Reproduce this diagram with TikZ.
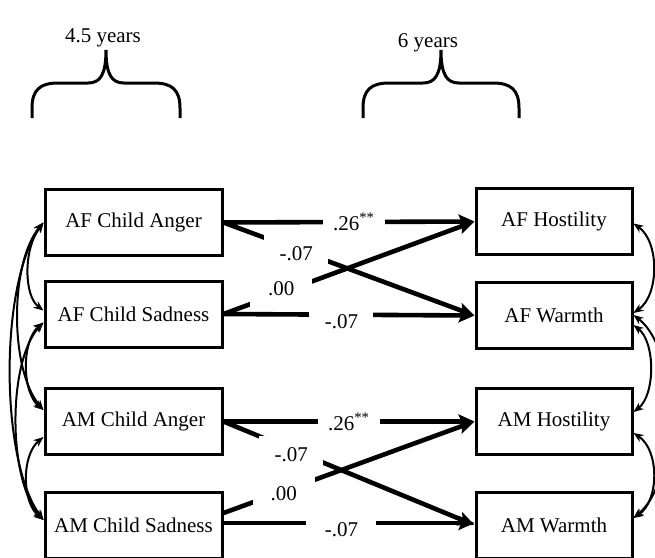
\documentclass[tikz,border=0pt]{standalone}
\usepackage{fontspec}
\setmainfont{Liberation Serif}
\usetikzlibrary{arrows.meta}
\begin{document}
\begin{tikzpicture}[x=0.5pt,y=-0.5pt,
  every node/.style={font=\fontsize{10.5}{12}\selectfont},
  leftbox/.style={draw,line width=1.5pt,minimum width=88.5pt,minimum height=33pt,inner sep=0pt},
  rightbox/.style={draw,line width=1.5pt,minimum width=78pt,minimum height=33pt,inner sep=0pt},
  effarrow/.style={line width=2.3pt,-{Stealth[length=8pt,width=7pt,inset=1.5pt]}},
  coefflabel/.style={fill=white,inner sep=0pt,minimum height=18pt},
  covarrow/.style={line width=1pt,{Stealth[length=5pt,width=4pt]}-{Stealth[length=5pt,width=4pt]}},
  bracepath/.style={line width=1.5pt}
]
\useasboundingbox (0,0) rectangle (655,558);
\clip (0,0) rectangle (655,558);

% time point headings and braces
\node[anchor=base] (t1) at (103,42) {4.5 years};
\node[anchor=base] (t2) at (428,47) {6 years};
\draw[bracepath] (32,118) -- (32,108) .. controls (32,90) and (40,83) .. (58,83) -- (88,83)
  .. controls (100,83) and (106,75) .. (106,50)
  .. controls (106,75) and (112,83) .. (124,83) -- (154,83)
  .. controls (172,83) and (180,90) .. (180,108) -- (180,118);
\draw[bracepath] (363,118) -- (363,108) .. controls (363,90) and (371,83) .. (389,83) -- (423,83)
  .. controls (435,83) and (441,75) .. (441,50)
  .. controls (441,75) and (447,83) .. (459,83) -- (493,83)
  .. controls (511,83) and (519,90) .. (519,108) -- (519,118);

% child emotion at 4.5 years
\node[leftbox] (a1) at (133.5,222.5) {AF Child Anger};
\node[leftbox] (a2) at (133.5,314) {AF Child Sadness};
\node[leftbox] (a3) at (133.5,421.5) {AM Child Anger};
\node[leftbox] (a4) at (133.5,525) {AM Child Sadness};

% parenting at 6 years
\node[rightbox] (b1) at (554,221.5) {AF Hostility};
\node[rightbox] (b2) at (554,315.5) {AF Warmth};
\node[rightbox] (b3) at (554,421.5) {AM Hostility};
\node[rightbox] (b4) at (554,525) {AM Warmth};

% cross-lagged paths
\draw[effarrow] (a1.east) -- node[coefflabel,pos=0.52,minimum width=31pt]{.26\textsuperscript{**}} (b1.west);
\draw[effarrow] (a1.east) -- node[coefflabel,pos=0.29,minimum width=32pt,yshift=-2pt]{-.07} (b2.west);
\draw[effarrow] (a2.east) -- node[coefflabel,pos=0.23,minimum width=31pt,yshift=2pt]{.00} (b1.west);
\draw[effarrow] (a2.east) -- node[coefflabel,pos=0.47,minimum width=32pt,yshift=-3.5pt]{-.07} (b2.west);

\draw[effarrow] (a3.east) -- node[coefflabel,pos=0.5,minimum width=31pt]{.26\textsuperscript{**}} (b3.west);
\draw[effarrow] (a3.east) -- node[coefflabel,pos=0.27,minimum width=32pt,yshift=-2.5pt]{-.07} (b4.west);
\draw[effarrow] ([yshift=6pt]a4.east) -- node[coefflabel,pos=0.24,minimum width=31pt,yshift=-1.5pt]{.00} (b3.west);
\draw[effarrow] ([yshift=1pt]a4.east) -- node[coefflabel,pos=0.47,minimum width=35pt,yshift=-3.5pt]{-.07} ([yshift=1pt]b4.west);

% covariances among the 4.5-year variables
\draw[covarrow] (a1.west) .. controls +(-20,26) and +(-20,-15) .. ([yshift=1.75pt]a2.west);
\draw[covarrow] ([yshift=-4.25pt]a2.west) .. controls +(-22,18) and +(-22,-18) .. ([yshift=5.75pt]a3.west);
\draw[covarrow] ([yshift=-7.75pt]a3.west) .. controls +(-22,18) and +(-22,-18) .. ([yshift=2.5pt]a4.west);
\draw[covarrow] (a1.west) .. controls +(-34,40) and +(-34,-40) .. ([yshift=5.75pt]a3.west);
\draw[covarrow] ([yshift=-4.25pt]a2.west) .. controls +(-36,38) and +(-36,-40) .. ([yshift=2.5pt]a4.west);
\draw[covarrow] (a1.west) .. controls +(-44,60) and +(-44,-60) .. ([yshift=2.5pt]a4.west);

% residual covariances among the 6-year variables
\draw[covarrow] ([yshift=-1pt]b1.east) .. controls +(26,18) and +(26,-18) .. ([yshift=1.25pt]b2.east);
\draw[covarrow] ([yshift=-4.75pt]b2.east) .. controls +(22,17) and +(22,-17) .. ([yshift=4.75pt]b3.east);
\draw[covarrow] ([yshift=-5.75pt]b3.east) .. controls +(26,17) and +(26,-17) .. ([yshift=3.5pt]b4.east);
\draw[covarrow] ([yshift=0.25pt]b2.east) .. controls +(46,35) and +(46,-38) .. ([yshift=3.5pt]b4.east);
\end{tikzpicture}
\end{document}
